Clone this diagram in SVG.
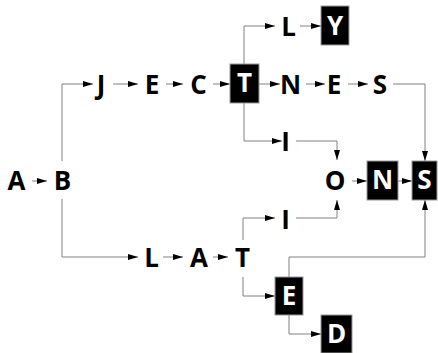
<svg xmlns="http://www.w3.org/2000/svg" width="438" height="353" viewBox="0 0 438 353">
<defs>
<marker id="ah" markerUnits="userSpaceOnUse" markerWidth="10" markerHeight="6" refX="10" refY="3" orient="auto">
<path d="M0,0 L10,3 L0,6 z" fill="#000"/>
</marker>
<style>
.t{font-family:"Open Sans","DejaVu Sans",sans-serif;font-weight:bold;font-size:26px;text-anchor:middle;fill:#000}
.w{fill:#fff}
.b{fill:#000;stroke:#999;stroke-width:1}
.c{fill:none;stroke:#808080;stroke-width:1;marker-end:url(#ah)}
</style>
</defs>
<rect width="438" height="353" fill="#fff"/>
<g id="connectors">
<path class="c" d="M32,181 H47"/>
<path class="c" d="M62,161 V84 H93"/>
<path class="c" d="M62,199 V257 H138"/>
<path class="c" d="M113,84 H138"/>
<path class="c" d="M166,84 H183"/>
<path class="c" d="M213,84 H230"/>
<path class="c" d="M244,64 V26 H275"/>
<path class="c" d="M300,26 H321"/>
<path class="c" d="M259,84 H280"/>
<path class="c" d="M306,84 H325"/>
<path class="c" d="M348,84 H368"/>
<path class="c" d="M393,84 H425 V161"/>
<path class="c" d="M244,103 V141 H282"/>
<path class="c" d="M296,141 H337 V160"/>
<path class="c" d="M352,181 H367"/>
<path class="c" d="M398,181 H412"/>
<path class="c" d="M163,257 H183"/>
<path class="c" d="M213,257 H228"/>
<path class="c" d="M243,240 V218 H275"/>
<path class="c" d="M296,218 H337 V200"/>
<path class="c" d="M243,277 V296 H275"/>
<path class="c" d="M289,277 V257 H425 V200"/>
<path class="c" d="M289,315 V334 H321"/>
</g>
<g id="n-A"><text class="t" x="16.5" y="190">A</text></g>
<g id="n-B"><text class="t" x="62.5" y="190">B</text></g>
<g id="n-J"><text class="t" x="101" y="94">J</text></g>
<g id="n-E1"><text class="t" x="152" y="94">E</text></g>
<g id="n-C"><text class="t" x="198.5" y="94">C</text></g>
<g id="n-T1"><rect class="b" x="230" y="64" width="29" height="39"/><text class="t w" x="244.5" y="92">T</text></g>
<g id="n-L1"><text class="t" x="288.5" y="36">L</text></g>
<g id="n-Y"><rect class="b" x="321" y="6" width="28" height="39"/><text class="t w" x="335" y="35">Y</text></g>
<g id="n-N1"><text class="t" x="290.5" y="94">N</text></g>
<g id="n-E2"><text class="t" x="334" y="94">E</text></g>
<g id="n-S1"><text class="t" x="380" y="94">S</text></g>
<g id="n-I1"><text class="t" x="285.5" y="151">I</text></g>
<g id="n-O"><text class="t" x="335" y="190">O</text></g>
<g id="n-N2"><rect class="b" x="367" y="161" width="31" height="39"/><text class="t w" x="382.5" y="189">N</text></g>
<g id="n-S2"><rect class="b" x="412" y="161" width="25" height="39"/><text class="t w" x="424.5" y="189">S</text></g>
<g id="n-I2"><text class="t" x="285.5" y="229">I</text></g>
<g id="n-L2"><text class="t" x="151.5" y="267">L</text></g>
<g id="n-A2"><text class="t" x="199" y="267">A</text></g>
<g id="n-T2"><text class="t" x="242.5" y="267">T</text></g>
<g id="n-E3"><rect class="b" x="275" y="277" width="28" height="38"/><text class="t w" x="289" y="305">E</text></g>
<g id="n-D"><rect class="b" x="321" y="315" width="31" height="38"/><text class="t w" x="336.5" y="343">D</text></g>
</svg>
